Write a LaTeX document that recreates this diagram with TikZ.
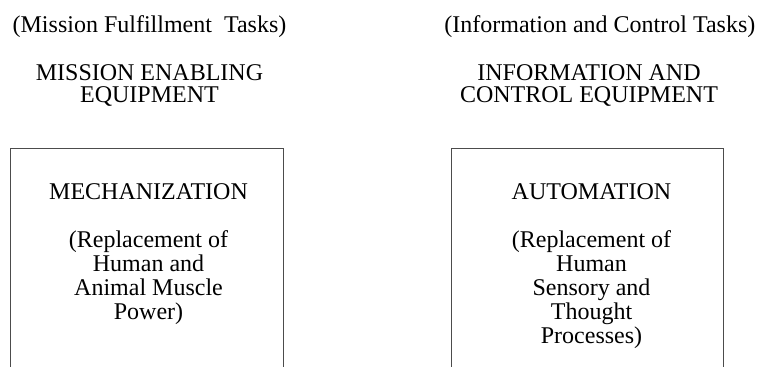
\documentclass[tikz,border=0pt]{standalone}
\usepackage{fontspec}
\setmainfont{Liberation Serif}
\usetikzlibrary{positioning}

\begin{document}
\begin{tikzpicture}[
  x=0.5pt, y=-0.5pt,
  task/.style={inner sep=0pt, font=\fontsize{12}{12}\selectfont},
  equip/.style={inner sep=0pt, align=center, font=\fontsize{12}{10.9}\selectfont},
  boxtext/.style={inner sep=0pt, align=center, anchor=north, font=\fontsize{12}{12}\selectfont},
  frame/.style={draw=black!70, line width=0.5pt}
]
\useasboundingbox (0,0) rectangle (758,367);

% headings
\node[task, anchor=base] (mtask) at (149.5,33) {(Mission Fulfillment\ \ Tasks)};
\node[task, anchor=base west] (itask) at (444,33) {(Information and Control Tasks)};
\coordinate (icol) at (589,0);
\node[equip, below=13pt of mtask] (mequip) {MISSION ENABLING\\EQUIPMENT};
\node[equip, anchor=north] (iequip) at (mequip.north -| icol) {INFORMATION AND\\CONTROL EQUIPMENT};

% open boxes
\draw[frame] (10,367) |- (283,149) -- (283,367);
\draw[frame] (451,367) |- (723,149) -- (723,367);

\node[boxtext] (mech) at (148.5,183) {MECHANIZATION\\[12pt](Replacement of\\Human and\\Animal Muscle\\Power)};
\node[boxtext] (auto) at (591.5,183) {AUTOMATION\\[12pt](Replacement of\\Human\\Sensory and\\Thought\\Processes)};
\end{tikzpicture}
\end{document}
